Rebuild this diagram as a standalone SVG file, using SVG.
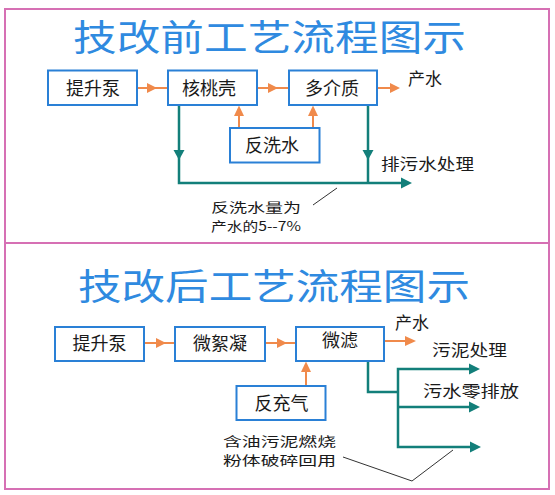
<svg xmlns="http://www.w3.org/2000/svg" width="555" height="495" viewBox="0 0 555 495">
<style>
.frame{fill:#fff;stroke:#d670b4;stroke-width:2}
.box{fill:#fff;stroke:#2a80d6;stroke-width:2}
.title{font-family:"Noto Sans CJK SC","Noto Sans",sans-serif;font-size:36px;fill:#2f8ae0}
.lbl{font-family:"Noto Sans CJK SC","Noto Sans",sans-serif;font-size:18px;fill:#1a1a1a;text-anchor:middle}
.note{font-family:"Noto Sans CJK SC","Noto Sans",sans-serif;font-size:16px;fill:#1a1a1a}
.n17{font-size:17px}
.n13{font-size:13px}
.or{fill:none;stroke:#f08a4b;stroke-width:2}
.orh{fill:#f08a4b}
.tl{fill:none;stroke:#137f7a;stroke-width:2.5}
.tlh{fill:#137f7a}
.call{fill:none;stroke:#333;stroke-width:1}
</style>
<rect class="frame" x="5" y="9" width="544" height="480"/>
<line x1="5" y1="243" x2="549" y2="243" stroke="#d670b4" stroke-width="2"/>

<text class="title" x="73" y="51" textLength="393" lengthAdjust="spacingAndGlyphs">技改前工艺流程图示</text>
<text class="title" x="78" y="300" textLength="392" lengthAdjust="spacingAndGlyphs">技改后工艺流程图示</text>

<g id="connectors">
  <!-- top section -->
  <line class="or" x1="137" y1="88" x2="168" y2="88"/>
  <polygon class="orh" points="147,83 157,88 147,93"/>
  <line class="or" x1="257" y1="88" x2="289" y2="88"/>
  <polygon class="orh" points="268,83 278,88 268,93"/>
  <line class="or" x1="377" y1="88" x2="392" y2="88"/>
  <polygon class="orh" points="390,83 400,88 390,93"/>
  <line class="or" x1="239" y1="128" x2="239" y2="112"/>
  <polygon class="orh" points="234,116 239,105.5 244,116"/>
  <line class="or" x1="313" y1="128" x2="313" y2="112"/>
  <polygon class="orh" points="308,116 313,105.5 318,116"/>
  <path class="tl" d="M179,105 V183 H403"/>
  <path class="tl" d="M368,105 V183"/>
  <polygon class="tlh" points="173.5,150 184.5,150 179,160"/>
  <polygon class="tlh" points="362.5,150 373.5,150 368,160"/>
  <polygon class="tlh" points="401,177.5 412,183 401,188.5"/>
  <line class="call" x1="313" y1="205" x2="337" y2="188"/>

  <!-- bottom section -->
  <line class="or" x1="144" y1="343" x2="175" y2="343"/>
  <polygon class="orh" points="156,338 166,343 156,348"/>
  <line class="or" x1="265" y1="343" x2="296" y2="343"/>
  <polygon class="orh" points="277,338 287,343 277,348"/>
  <line class="or" x1="384" y1="341" x2="407" y2="341"/>
  <polygon class="orh" points="405,336 416,341 405,346"/>
  <line class="or" x1="306" y1="386" x2="306" y2="368"/>
  <polygon class="orh" points="301,372 306,361.5 311,372"/>
  <path class="tl" d="M368,361 V392 H398"/>
  <path class="tl" d="M471,369 H398 V447 H471"/>
  <path class="tl" d="M398,407 H471"/>
  <polygon class="tlh" points="469,363.5 480,369 469,374.5"/>
  <polygon class="tlh" points="469,401.5 480,407 469,412.5"/>
  <polygon class="tlh" points="470,441.5 481,447 470,452.5"/>
  <polyline class="call" points="343,457 412,481 453,450"/>
</g>

<g id="n-pump1"><rect class="box" x="48" y="70.5" width="89" height="34.5"/><text class="lbl" x="93" y="94.5">提升泵</text></g>
<g id="n-walnut"><rect class="box" x="168" y="70.5" width="89" height="34.5"/><text class="lbl" x="209" y="94.5">核桃壳</text></g>
<g id="n-multi"><rect class="box" x="289" y="70.5" width="88" height="34.5"/><text class="lbl" x="332" y="94.5">多介质</text></g>
<g id="n-backwash"><rect class="box" x="230" y="128" width="89.5" height="34.5"/><text class="lbl" x="272" y="151.5">反洗水</text></g>

<g id="n-pump2"><rect class="box" x="55" y="327" width="89" height="34"/><text class="lbl" x="99.5" y="349.5">提升泵</text></g>
<g id="n-floc"><rect class="box" x="175" y="327" width="90" height="34"/><text class="lbl" x="220" y="349.5">微絮凝</text></g>
<g id="n-mf"><rect class="box" x="296" y="327" width="88" height="34"/><text class="lbl" x="340" y="346.5">微滤</text></g>
<g id="n-air"><rect class="box" x="236.5" y="386" width="89" height="34"/><text class="lbl" x="281.5" y="409.5">反充气</text></g>

<g id="labels">
  <text class="note n17" x="408" y="85">产水</text>
  <text class="note" x="381" y="170" textLength="93" lengthAdjust="spacingAndGlyphs">排污水处理</text>
  <text class="note n13" x="211" y="212" textLength="90" lengthAdjust="spacingAndGlyphs">反洗水量为</text>
  <text class="note n13" x="211" y="231" textLength="90" lengthAdjust="spacingAndGlyphs">产水的5--7%</text>
  <text class="note n17" x="395" y="329">产水</text>
  <text class="note" x="432" y="356" textLength="75" lengthAdjust="spacingAndGlyphs">污泥处理</text>
  <text class="note" x="423" y="397" textLength="96" lengthAdjust="spacingAndGlyphs">污水零排放</text>
  <text class="note n13" x="223" y="446" textLength="113" lengthAdjust="spacingAndGlyphs">含油污泥燃烧</text>
  <text class="note n13" x="223" y="465" textLength="113" lengthAdjust="spacingAndGlyphs">粉体破碎回用</text>
</g>
</svg>
